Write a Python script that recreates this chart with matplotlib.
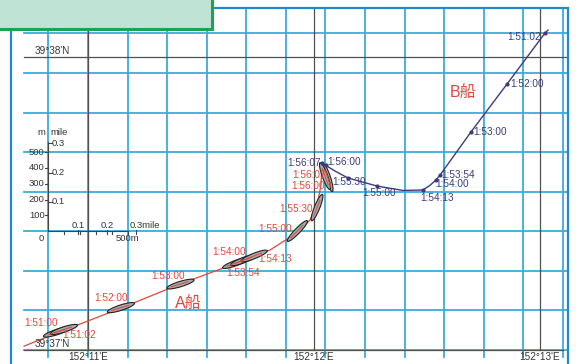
import numpy as np
import matplotlib.pyplot as plt
from matplotlib.patches import Ellipse, Rectangle

plt.rcParams['font.family'] = ['Liberation Sans', 'Noto Sans CJK SC', 'DejaVu Sans']

# 坐标单位: 米, 原点 152°11'E / 39°37'N
lon_names = ["152°11'E", "152°12'E", "152°13'E"]
lon_x = [0, 1427, 2854]
lat_names = ["39°37'N", "39°38'N"]
lat_y = [0, 1852]

# A船航迹
a_track_x = [-404, -164, 208, 581, 992, 1150, 1327, 1402, 1447, 1472, 1478]
a_track_y = [25, 120, 265, 417, 569, 632, 745, 821, 916, 1042, 1181]

# A船船位 (时间, x, y, 船首向)
a_times = ["1:51:00", "1:51:02", "1:52:00", "1:53:00", "1:53:54", "1:54:00",
           "1:54:13", "1:55:00", "1:55:30", "1:56:00", "1:56:07"]
a_pos_x = [-196, -152, 208, 584, 935, 985, 1049, 1323, 1447, 1516, 1497]
a_pos_y = [114, 130, 268, 417, 550, 569, 594, 752, 900, 1087, 1099]
a_heading = [18, 18, 18, 17, 20, 21, 22, 46, 68, 108, 110]

# B船航迹
b_track_x = [2906, 2887, 2647, 2419, 2224, 2198, 2160, 2116, 1990, 1826, 1642, 1560, 1478]
b_track_y = [2021, 2002, 1680, 1377, 1105, 1074, 1040, 1011, 1008, 1036, 1087, 1131, 1181]

b_times = ["1:51:02", "1:52:00", "1:53:00", "1:53:54", "1:54:00", "1:54:13",
           "1:55:00", "1:55:30", "1:56:00", "1:56:07"]
b_pos_x = [2887, 2647, 2419, 2224, 2198, 2116, 1826, 1642, 1503, 1478]
b_pos_y = [2002, 1680, 1377, 1105, 1074, 1011, 1036, 1087, 1169, 1181]

# 比例尺
scale_m = [100, 200, 300, 400, 500]
scale_mile = [0.1, 0.2, 0.3]
mile = 1852.0

# 标签偏移 (像素)
a_label_off = [(-16, 9), (15, -6), (-10, 10), (-12, 8), (7, -10), (-15, 8),
               (21, -3), (-22, 2), (-21, -1), (-20, -8), (-16, 1)]
b_label_off = [(-4, -4, 'right'), (3, 0, 'left'), (2, 0, 'left'), (1, 0, 'left'),
               (-1, -4, 'left'), (-3, -8, 'left'), (-15, -7, 'left'), (-16, -4, 'left'),
               (1, 3, 'left'), (-1, 0, 'right')]

grid_c = '#3aacdc'
red = '#e0473c'
navy = '#3c3c7c'

fig = plt.figure(figsize=(5.76, 3.64), dpi=100)
ax = fig.add_axes([0, 0, 1, 1])
ax.set_xlim(-556, 3083)
ax.set_ylim(-88, 2211)
ax.axis('off')

# 250m 网格
for gx in range(-250, 3001, 250):
    ax.plot([gx, gx], [-45, 2160], color=grid_c, lw=1.3, zorder=1)
for gy in range(0, 2001, 250):
    ax.plot([-405, 3032], [gy, gy], color=grid_c, lw=1.3, zorder=1)

# 经纬线
for x, name in zip(lon_x, lon_names):
    ax.plot([x, x], [0, 2160], color='#505050', lw=0.9, zorder=2)
    ax.text(x, -12, name, ha='center', va='top', fontsize=7.2, color='#333333', zorder=5)
for y, name in zip(lat_y, lat_names):
    ax.plot([-405, 3000 if y == 0 else 3032], [y, y], color='#505050', lw=0.9, zorder=2)
    ax.text(-335, y + 8, name, ha='left', va='bottom', fontsize=7.2, color='#333333', zorder=5)

# 比例尺
ox, oy = -250, 750
ax.plot([ox, ox], [oy, oy + 0.3 * mile + 10], color='#444444', lw=0.8, zorder=3)
ax.plot([ox, ox + 500], [oy, oy], color='#444444', lw=0.8, zorder=3)
for m in scale_m:
    ax.plot([ox - 22, ox], [oy + m, oy + m], color='#444444', lw=0.8, zorder=3)
    ax.text(ox - 24, oy + m, str(m), ha='right', va='center', fontsize=6.8, color='#333333', zorder=5)
    ax.plot([ox + m, ox + m], [oy - 18, oy], color='#444444', lw=0.8, zorder=3)
for mi in scale_mile:
    d = mi * mile
    ax.plot([ox, ox + 20], [oy + d, oy + d], color='#444444', lw=0.8, zorder=3)
    ax.text(ox + 22, oy + d, str(mi), ha='left', va='center', fontsize=6.8, color='#333333', zorder=5)
    ax.plot([ox + d, ox + d], [oy - 18, oy + 10], color='#444444', lw=0.8, zorder=3)
    lab = '0.3mile' if mi == 0.3 else str(mi)
    ax.text(ox + d - (40 if mi == 0.3 else 0), oy + 10, lab, ha='left' if mi == 0.3 else 'center',
            va='bottom', fontsize=6.8, color='#333333', zorder=5)
ax.text(ox - 20, oy + 0.3 * mile + 40, 'm', ha='right', va='bottom', fontsize=6.8, color='#333333')
ax.text(ox + 10, oy + 0.3 * mile + 40, 'mile', ha='left', va='bottom', fontsize=6.8, color='#333333')
ax.text(ox - 30, oy - 20, '0', ha='right', va='top', fontsize=6.8, color='#333333')
ax.text(ox + 500, oy - 20, '500m', ha='center', va='top', fontsize=6.8, color='#333333')

# 航迹
ax.plot(a_track_x, a_track_y, color=red, lw=0.9, zorder=4)
ax.plot(b_track_x, b_track_y, color=navy, lw=1.0, zorder=4)
ax.plot(b_pos_x, b_pos_y, 'o', color=navy, ms=2, zorder=6)

# A船船位
for t, x, y, h, off in zip(a_times, a_pos_x, a_pos_y, a_heading, a_label_off):
    ax.add_patch(Ellipse((x, y), 180, 34, angle=h, facecolor='#a9a9a9',
                         edgecolor='#222222', lw=0.8, zorder=5))
    r = np.radians(h)
    ax.plot([x - 60 * np.cos(r), x + 50 * np.cos(r)], [y - 60 * np.sin(r), y + 50 * np.sin(r)],
            color=red, lw=0.7, zorder=6)
    ax.annotate(t, (x, y), xytext=off, textcoords='offset pixels', ha='center', va='center',
                fontsize=7.2, color=red, zorder=7)

for t, x, y, off in zip(b_times, b_pos_x, b_pos_y, b_label_off):
    ax.annotate(t, (x, y), xytext=off[:2], textcoords='offset pixels', ha=off[2], va='center',
                fontsize=7.2, color=navy, zorder=7)

ax.text(632, 291, 'A船', ha='center', va='center', fontsize=11.5, color=red, zorder=7)
ax.text(2369, 1623, 'B船', ha='center', va='center', fontsize=11.5, color=red, zorder=7)

# 外框和标题框
fig.patches.append(Rectangle((11 / 576, -0.1), 557 / 576, 1.1 - 8 / 364, transform=fig.transFigure,
                             fill=False, edgecolor='#1f8ad2', lw=1.6, zorder=8))
fig.patches.append(Rectangle((-0.02, 1 - 29 / 364), 0.02 + 212 / 576, 0.2, transform=fig.transFigure,
                             facecolor='#bfe3d4', edgecolor='#1aa550', lw=2.2, zorder=9))

fig.savefig('out.png', dpi=100)
